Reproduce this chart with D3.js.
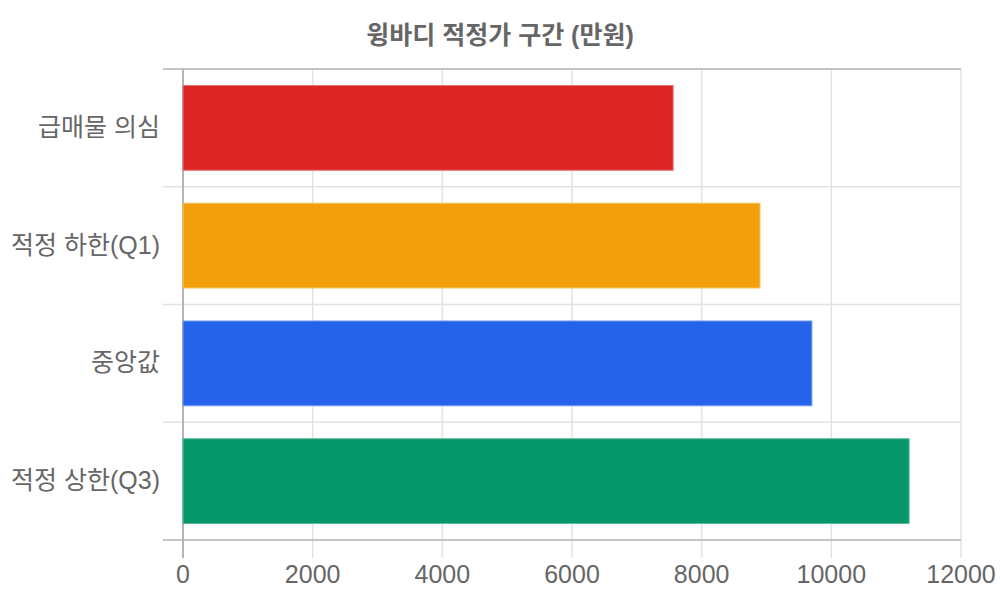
<!DOCTYPE html>
<html><head><meta charset="utf-8">
<script src="https://cdn.jsdelivr.net/npm/d3@7"></script>
<style>body{margin:0;background:#fff;}svg{display:block;font-family:"Liberation Sans","Noto Sans CJK KR",sans-serif;}</style>
</head><body>
<svg id="c" width="1000" height="600"></svg>
<script>
const categories = ["급매물 의심", "적정 하한(Q1)", "중앙값", "적정 상한(Q3)"];
const values = [7560, 8900, 9700, 11200];
const colors = ["#dc2626", "#f39f0c", "#2563eb", "#059669"];
const xTicks = [0, 2000, 4000, 6000, 8000, 10000, 12000];
const title = "윙바디 적정가 구간 (만원)";

const svg = d3.select("#c");
const pL = 183, pR = 961, pT = 69, pB = 540;
const x = d3.scaleLinear().domain([0, 12000]).range([pL, pR]);
const y = d3.scaleBand().domain(categories).range([pT, pB]).padding(0);
const bw = y.bandwidth();
const barH = bw * 0.72;

// grid
const g = svg.append("g");
xTicks.forEach((t, i) => {
  g.append("line").attr("x1", x(t)).attr("x2", x(t)).attr("y1", pT).attr("y2", pB + 18)
    .attr("stroke", i === 0 ? "#b4b4b4" : "#e2e2e2").attr("stroke-width", i === 0 ? 2 : 1.5);
});
const yLines = categories.map(c => y(c)).concat([pB]);
yLines.forEach((v, i) => {
  const edge = i === 0 || i === yLines.length - 1;
  g.append("line").attr("x1", pL - 20).attr("x2", pR).attr("y1", v).attr("y2", v)
    .attr("stroke", edge ? "#c4c4c4" : "#e2e2e2").attr("stroke-width", edge ? 2 : 1.5);
});
g.append("line").attr("x1", pL).attr("x2", pL).attr("y1", pT).attr("y2", pB + 18)
  .attr("stroke", "#b4b4b4").attr("stroke-width", 2);

// bars
svg.append("g").selectAll("rect").data(values).join("rect")
  .attr("x", x(0))
  .attr("y", (d, i) => y(categories[i]) + (bw - barH) / 2)
  .attr("width", d => x(d) - x(0))
  .attr("height", barH)
  .attr("fill", (d, i) => colors[i])
  .attr("stroke", (d, i) => d3.interpolateRgb(colors[i], "#ffffff")(0.35))
  .attr("stroke-width", 1);

// x labels
svg.append("g").selectAll("text").data(xTicks).join("text")
  .attr("x", d => x(d)).attr("y", 583)
  .attr("text-anchor", "middle").attr("fill", "#666").attr("font-size", 25)
  .text(d => d);

// y labels
svg.append("g").selectAll("text").data(categories).join("text")
  .attr("x", 160).attr("y", d => y(d) + bw / 2 + 8)
  .attr("text-anchor", "end").attr("fill", "#666").attr("font-size", 25)
  .text(d => d);

// title
svg.append("text").attr("x", 500).attr("y", 44).attr("text-anchor", "middle")
  .attr("fill", "#666").attr("font-size", 25).attr("font-weight", "bold")
  .text(title);
</script>
</body></html>
